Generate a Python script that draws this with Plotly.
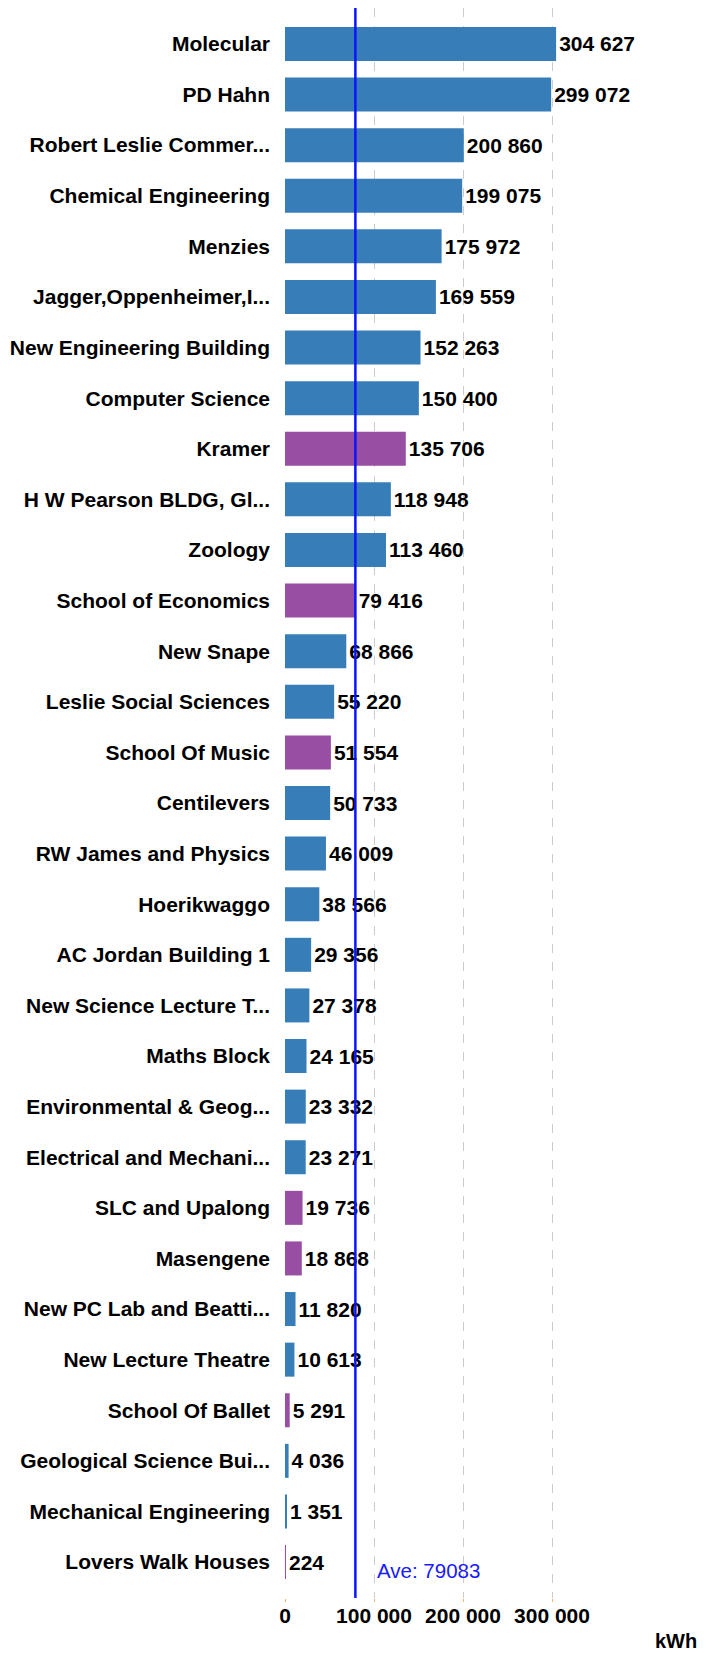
import plotly.graph_objects as go

buildings = [
    "Molecular", "PD Hahn", "Robert Leslie Commer...", "Chemical Engineering", "Menzies",
    "Jagger,Oppenheimer,I...", "New Engineering Building", "Computer Science", "Kramer",
    "H W Pearson BLDG, Gl...", "Zoology", "School of Economics", "New Snape",
    "Leslie Social Sciences", "School Of Music", "Centilevers", "RW James and Physics",
    "Hoerikwaggo", "AC Jordan Building 1", "New Science Lecture T...", "Maths Block",
    "Environmental & Geog...", "Electrical and Mechani...", "SLC and Upalong", "Masengene",
    "New PC Lab and Beatti...", "New Lecture Theatre", "School Of Ballet",
    "Geological Science Bui...", "Mechanical Engineering", "Lovers Walk Houses",
]
kwh = [
    304627, 299072, 200860, 199075, 175972, 169559, 152263, 150400, 135706, 118948,
    113460, 79416, 68866, 55220, 51554, 50733, 46009, 38566, 29356, 27378, 24165,
    23332, 23271, 19736, 18868, 11820, 10613, 5291, 4036, 1351, 224,
]
group = [
    "a", "a", "a", "a", "a", "a", "a", "a", "b", "a", "a", "b", "a", "a", "b", "a",
    "a", "a", "a", "a", "a", "a", "a", "b", "b", "a", "a", "b", "a", "a", "b",
]
average = 79083
x_ticks = [0, 100000, 200000, 300000]

group_colors = {"a": "#377eb8", "b": "#984ea3"}
colors = [group_colors[g] for g in group]

FONT = "Liberation Sans, Arial, sans-serif"

fig = go.Figure(go.Bar(
    x=kwh, y=buildings, orientation="h",
    marker=dict(color=colors, line=dict(width=0)),
    texttemplate="%{x:,}", textposition="outside", constraintext="none",
    cliponaxis=False,
    textfont=dict(family=FONT, size=21, color="#000000", weight="bold"),
    hoverinfo="skip",
))

fig.add_shape(type="line", xref="x", yref="paper", x0=average, x1=average, y0=0, y1=1,
              line=dict(color="#0a14ff", width=2.5), layer="above")

fig.add_annotation(x=average, xref="x", y=0.0176, yref="paper", text=f"Ave: {average}",
                   showarrow=False, xanchor="left", yanchor="middle", xshift=20,
                   font=dict(family=FONT, size=20.5, color="#1a1aff"))

fig.add_annotation(x=0.956, xref="paper", y=-0.027, yref="paper", text="kWh",
                   showarrow=False, xanchor="center", yanchor="middle",
                   font=dict(family=FONT, size=20, color="#000000", weight="bold"))

fig.update_layout(
    width=706, height=1646,
    margin=dict(l=277, r=20, t=0, b=56),
    plot_bgcolor="white", paper_bgcolor="white",
    bargap=0.328, showlegend=False,
    separators=". ",
    font=dict(family=FONT, color="#000000"),
)
fig.update_xaxes(
    range=[0, 459550], tickvals=x_ticks, tickformat=",",
    showgrid=True, gridcolor="#cccccc", griddash="dash", gridwidth=1,
    zeroline=False, showline=False,
    ticks="outside", ticklen=3, tickcolor="#f5b36b", tickwidth=1,
    ticklabelstandoff=-4,
    tickfont=dict(family=FONT, size=21, color="#000000", weight="bold"),
)
fig.update_yaxes(
    categoryorder="array", categoryarray=buildings,
    range=[len(buildings) - 1 + 0.71, -0.71],
    showgrid=False, zeroline=False, showline=False, ticks="",
    ticklabelstandoff=14,
    tickfont=dict(family=FONT, size=21, color="#000000", weight="bold"),
)

fig.write_html("out.html")
